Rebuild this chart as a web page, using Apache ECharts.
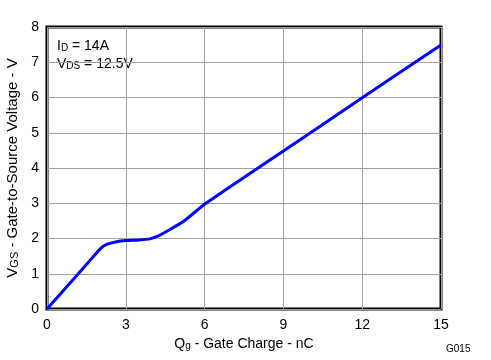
<!DOCTYPE html>
<html><head><meta charset="utf-8">
<script src="https://cdn.jsdelivr.net/npm/echarts@6/dist/echarts.min.js"></script>
<style>html,body{margin:0;padding:0;background:#fff}#c{width:491px;height:360px}</style>
</head><body><div id="c"></div>
<script>
const qg = [0, 0.5, 1.0, 1.5, 2.08, 2.3, 2.65, 3.0, 3.5, 3.92, 4.17, 4.6, 5.19, 6.0, 9.0, 12.0, 15.0];
const vgs = [0, 0.42, 0.84, 1.26, 1.75, 1.84, 1.91, 1.94, 1.96, 1.99, 2.05, 2.22, 2.48, 2.97, 4.48, 5.99, 7.49];
const xTicks = [0, 3, 6, 9, 12, 15];
const yTicks = [0, 1, 2, 3, 4, 5, 6, 7, 8];
const font = 'Liberation Sans, Arial, sans-serif';
const richN = (c, fs) => ({fontSize: fs, fontFamily: font, [c]: '#000', verticalAlign: 'bottom', lineHeight: fs + 2});
const richS = (c, fs) => ({fontSize: fs - 4, fontFamily: font, [c]: '#000', verticalAlign: 'bottom', lineHeight: fs - 3, padding: [4, 0, 0, 0]});
const chart = echarts.init(document.getElementById('c'));
chart.setOption({
  animation: false,
  grid: {left: 47, right: 50, top: 27, bottom: 51, containLabel: false, outerBoundsMode: 'none', show: true, borderColor: '#000', borderWidth: 3, backgroundColor: 'transparent'},
  xAxis: {
    type: 'value', min: xTicks[0], max: xTicks[xTicks.length-1], interval: 3,
    axisLine: {show: false}, axisTick: {show: false},
    splitLine: {lineStyle: {color: '#a0a0a0', width: 1}},
    axisLabel: {color: '#000', fontSize: 14, fontFamily: font, margin: 9},
    name: '{n|Q}{s|g}{n| - Gate Charge - nC}', nameLocation: 'middle', nameGap: 24,
    nameTextStyle: {rich: {n: richN('color', 14), s: richS('color', 14)}}
  },
  yAxis: {
    type: 'value', min: yTicks[0], max: yTicks[yTicks.length-1], interval: 1,
    axisLine: {show: false}, axisTick: {show: false},
    splitLine: {lineStyle: {color: '#a0a0a0', width: 1}},
    axisLabel: {color: '#000', fontSize: 14, fontFamily: font, margin: 8},
    name: '{n|V}{s|GS}{n| - Gate-to-Source Voltage - V}', nameLocation: 'middle', nameGap: 27,
    nameTextStyle: {rich: {n: richN('color', 15), s: richS('color', 15)}}
  },
  graphic: [
    {type: 'text', left: 57, top: 39, style: {text: '{n|I}{s|D}{n| = 14A}', rich: {n: richN('fill', 14), s: richS('fill', 14)}}},
    {type: 'text', left: 57, top: 57, style: {text: '{n|V}{s|DS}{n| = 12.5V}', rich: {n: richN('fill', 14), s: richS('fill', 14)}}},
    {type: 'text', left: 446, top: 344, style: {text: 'G015', fontSize: 10, fontFamily: font, fill: '#000'}}
  ],
  series: [{
    type: 'line', data: qg.map((x, i) => [x, vgs[i]]), showSymbol: false, smooth: 0.2,
    lineStyle: {color: '#0000ff', width: 3}, z: 5
  }]
});
</script></body></html>
